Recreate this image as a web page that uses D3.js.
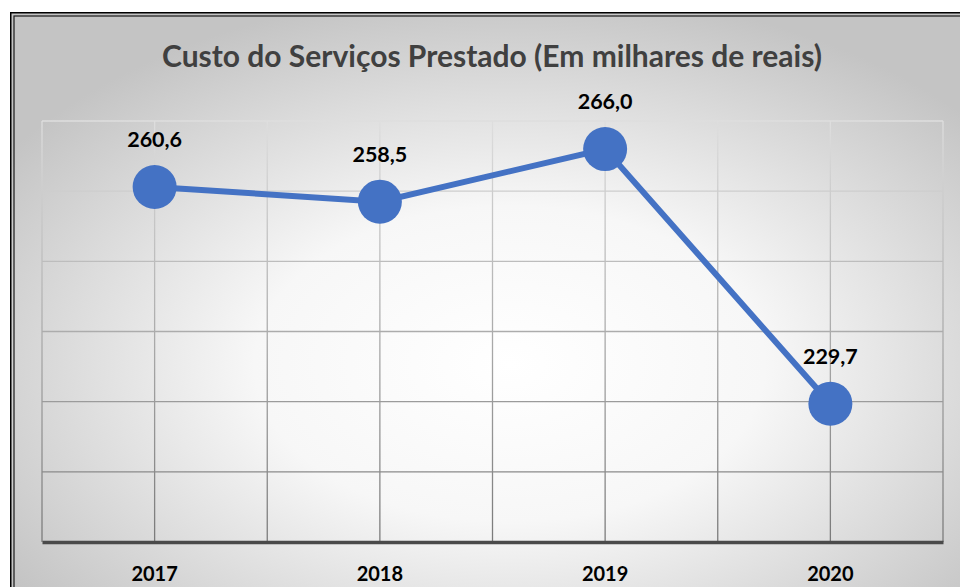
<!DOCTYPE html>
<html>
<head>
<meta charset="utf-8">
<script src="https://cdn.jsdelivr.net/npm/d3@7"></script>
<style>
  html, body { margin: 0; padding: 0; background: #fff; }
  svg { display: block; }
</style>
</head>
<body>
<div id="chart"></div>
<script>
const years = ["2017", "2018", "2019", "2020"];
const custo = [260.6, 258.5, 266.0, 229.7];
const yTicks = [210, 220, 230, 240, 250, 260, 270];
const title = "Custo do Serviços Prestado (Em milhares de reais)";

const width = 960, height = 587;
const plot = {left: 42, right: 943, top: 121, bottom: 542};
const blue = "#4472C4";

const svg = d3.select("#chart").append("svg")
    .attr("width", width)
    .attr("height", height)
    .attr("viewBox", [0, 0, width, height]);

const defs = svg.append("defs");

const bg = defs.append("radialGradient")
    .attr("id", "bg")
    .attr("cx", "51%").attr("cy", "58%").attr("r", "62%");
bg.append("stop").attr("offset", "0%").attr("stop-color", "#ffffff");
bg.append("stop").attr("offset", "42%").attr("stop-color", "#f7f7f7");
bg.append("stop").attr("offset", "100%").attr("stop-color", "#c4c4c4");

// gridlines get darker toward the bottom
const gridGrad = defs.append("linearGradient")
    .attr("id", "grid")
    .attr("gradientUnits", "userSpaceOnUse")
    .attr("x1", 0).attr("y1", plot.top)
    .attr("x2", 0).attr("y2", plot.bottom);
gridGrad.append("stop").attr("offset", "0%").attr("stop-color", "#dedede");
gridGrad.append("stop").attr("offset", "100%").attr("stop-color", "#7a7a7a");

// frame
svg.append("rect")
    .attr("x", 10).attr("y", 12)
    .attr("width", width + 20).attr("height", height + 20)
    .attr("fill", "url(#bg)");
svg.append("rect")
    .attr("x", 10.75).attr("y", 12.75)
    .attr("width", width + 20).attr("height", height + 20)
    .attr("fill", "none").attr("stroke", "#000").attr("stroke-width", 1.5);
svg.append("rect")
    .attr("x", 14).attr("y", 16)
    .attr("width", width + 20).attr("height", height + 20)
    .attr("fill", "none").attr("stroke", "#1a1a1a").attr("stroke-width", 1.2);

const x = d3.scaleBand()
    .domain(years)
    .range([plot.left, plot.right])
    .padding(0);

const y = d3.scaleLinear()
    .domain([210, 270])
    .range([plot.bottom, plot.top]);

const cx = d => x(d) + x.bandwidth() / 2;

// vertical gridlines: band edges and band centers
const vx = [];
years.forEach(d => { vx.push(x(d)); vx.push(cx(d)); });
vx.push(plot.right);

const grid = svg.append("g").attr("stroke", "url(#grid)").attr("stroke-width", 1.3);
grid.selectAll(".hl")
  .data(yTicks.slice(1))
  .join("line")
    .attr("x1", plot.left).attr("x2", plot.right)
    .attr("y1", d => y(d)).attr("y2", d => y(d));
grid.selectAll(".vl")
  .data(vx)
  .join("line")
    .attr("x1", d => d).attr("x2", d => d)
    .attr("y1", plot.top).attr("y2", plot.bottom);

// category axis
svg.append("g")
    .attr("transform", `translate(0,${plot.bottom})`)
    .call(d3.axisBottom(x).tickSize(0).tickPadding(25))
    .call(g => g.select(".domain")
        .attr("stroke", "#4a4a4a").attr("stroke-width", 3.5))
    .call(g => g.selectAll(".tick text")
        .attr("font-family", "Lato, sans-serif")
        .attr("font-weight", "bold")
        .attr("font-size", 20)
        .attr("fill", "#000"));

// line + markers
const pts = years.map((d, i) => ({year: d, v: custo[i]}));

svg.append("path")
    .datum(pts)
    .attr("fill", "none")
    .attr("stroke", blue)
    .attr("stroke-width", 6)
    .attr("d", d3.line().x(d => cx(d.year)).y(d => y(d.v)));

svg.append("g")
  .selectAll("circle")
  .data(pts)
  .join("circle")
    .attr("cx", d => cx(d.year))
    .attr("cy", d => y(d.v))
    .attr("r", 22)
    .attr("fill", blue);

svg.append("g")
  .selectAll("text")
  .data(pts)
  .join("text")
    .attr("x", d => cx(d.year))
    .attr("y", d => y(d.v) - 40)
    .attr("text-anchor", "middle")
    .attr("font-family", "Lato, sans-serif")
    .attr("font-weight", "bold")
    .attr("font-size", 21.5)
    .attr("fill", "#000")
    .text(d => d3.format(".1f")(d.v).replace(".", ","));

svg.append("text")
    .attr("x", 492)
    .attr("y", 67)
    .attr("text-anchor", "middle")
    .attr("font-family", "Lato, sans-serif")
    .attr("font-weight", "bold")
    .attr("font-size", 30)
    .attr("fill", "#404040")
    .text(title);
</script>
</body>
</html>
